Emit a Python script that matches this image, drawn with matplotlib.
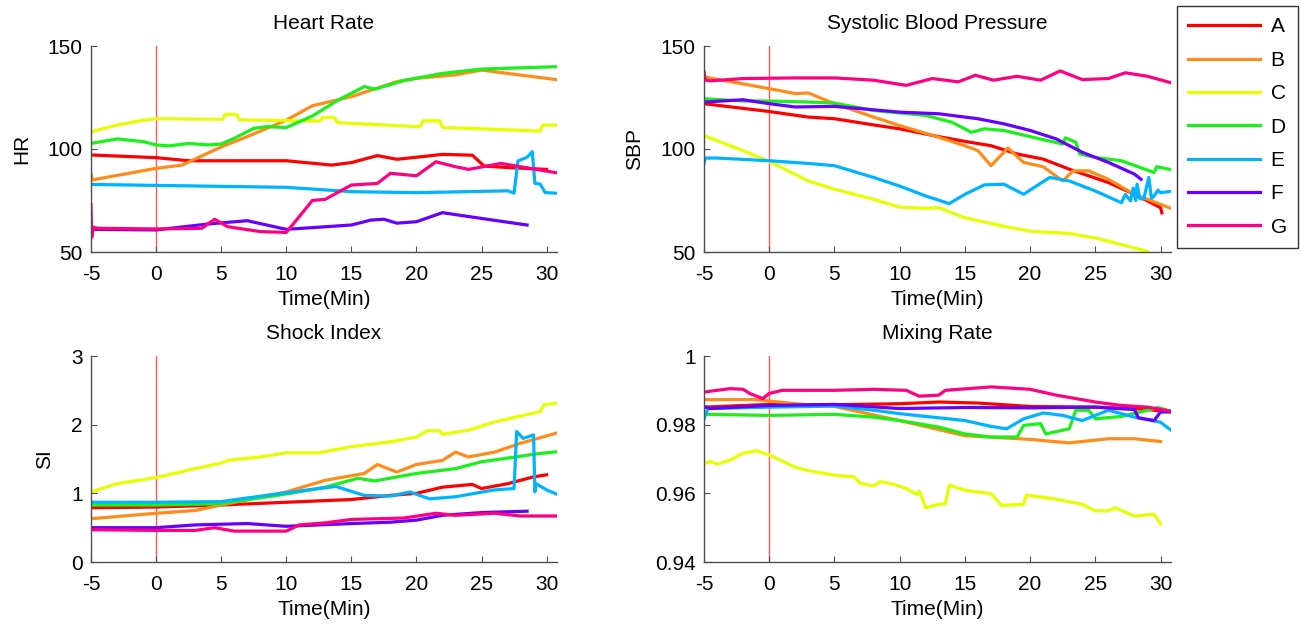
import numpy as np
from matplotlib import pyplot as plt

plt.rcParams['font.family'] = ['Liberation Sans', 'DejaVu Sans']
plt.rcParams['font.size'] = 15
plt.rcParams['axes.unicode_minus'] = False

names = ['A', 'B', 'C', 'D', 'E', 'F', 'G']
colors = ['#FF0000', '#FF8C1A', '#E6FF00', '#1AF01A', '#00B3FF', '#6600FF', '#FF0080']

# Heart Rate (time in min, bpm)
hr_a = [(-5, 97.1), (0, 95.8), (2.5, 94.3), (10, 94.3), (13.5, 92.2), (15, 93.4), (17, 96.8), (18.5, 95),
        (20, 96), (22, 97.4), (24.3, 97), (25.2, 91.7), (27, 91), (30, 90.1)]
hr_b = [(-5, 88), (-4.9, 85), (0, 90.6), (2, 92.2), (5, 101), (7, 106), (10, 114), (12, 121), (15, 125.4),
        (18.5, 132.7), (20, 134.3), (23, 136), (25, 138.3), (27, 136.7), (31, 133.5)]
hr_c = [(-5, 108.4), (-3, 111.6), (-1, 114), (0, 114.7), (5.1, 114.4), (5.3, 116.8), (6.2, 116.8), (6.4, 114.2),
        (10, 113.8), (12.6, 113.6), (12.8, 115.4), (13.7, 115.4), (13.9, 112.8), (20.3, 110.8), (20.5, 113.7),
        (21.8, 113.7), (22, 110.5), (29.5, 108.7), (29.7, 111.6), (31, 111.6)]
hr_d = [(-5, 102.7), (-3, 104.9), (-1, 103.6), (0, 102), (1, 101.5), (2.5, 102.7), (4, 102), (5, 102.4),
        (6, 105.2), (7.5, 110), (8.5, 110.9), (10, 110.4), (12, 116), (14, 123.8), (16, 130.3), (16.8, 129),
        (19, 133.2), (22, 136.7), (25, 138.8), (31, 140)]
hr_e = [(-5, 82.8), (10, 81.4), (15, 79.3), (20, 78.8), (27, 79.7), (27.5, 78.6), (27.8, 94.2), (28.5, 96),
        (28.9, 98.7), (29.1, 83.3), (29.5, 83), (29.9, 78.8), (31, 78.5)]
hr_f = [(-5, 61), (0, 60.7), (4, 63.6), (7, 65.2), (10, 61), (15, 63.1), (16.5, 65.5), (17.5, 65.9),
        (18.5, 64), (20, 64.7), (22, 69.1), (25, 66.3), (28.5, 63.1)]
hr_g = [(-5, 73), (-4.95, 57), (-4.8, 62), (-4.5, 61.5), (0, 61.2), (3.5, 61.5), (4.5, 65.9), (5.5, 62.3),
        (8, 59.9), (10, 59.5), (11, 67.2), (12, 75), (13, 75.6), (15, 82.5), (17, 83.3), (18, 88.2), (20, 87),
        (21.5, 93.8), (23, 91.4), (24, 90.1), (26.5, 93), (28, 91.4), (31, 88.2)]

# Systolic Blood Pressure (mmHg)
sbp_a = [(-5, 122), (0, 118.2), (3, 115.5), (5, 114.7), (8, 111.7), (10, 109.8), (13, 106), (15, 103.7),
         (17, 101.6), (19, 97.6), (21, 95.1), (23, 90.2), (26, 83.7), (28, 78), (30, 71.5), (30.1, 69)]
sbp_b = [(-5, 135), (0, 129.3), (2, 126.9), (3, 127.2), (5, 122), (8, 115.5), (10, 111.4), (13, 105.7),
         (15, 101.6), (16, 99.2), (17, 91.9), (18.3, 100.5), (19.5, 93.5), (21, 91.4), (22.5, 84.5),
         (23.3, 89.4), (24.5, 89.4), (26, 85.3), (28, 78), (31, 70.7)]
sbp_c = [(-5, 106.5), (-2, 99.2), (0, 94), (3, 84.5), (5, 80.5), (8, 75.6), (10, 71.8), (12, 71.2),
         (13, 71.5), (15, 66.6), (18, 62.5), (20, 60.1), (23, 59), (25, 56.8), (27, 53.6), (29, 50.3)]
sbp_d = [(-5, 124.4), (-2, 123.3), (0, 123.3), (3, 122.8), (5, 122.3), (8, 118.7), (12, 116.3), (14, 113),
         (15.5, 108.1), (16.5, 109.8), (18, 109), (20, 106), (22.5, 102.4), (22.7, 105.4), (23.5, 103.3),
         (23.8, 97.6), (25, 95.9), (27, 94.3), (29.5, 88.6), (29.7, 91.4), (31, 89.7)]
sbp_e = [(-5, 93), (-4.9, 95.6), (-4, 95.6), (0, 94.3), (3, 93), (5, 91.9), (8, 86.2), (10, 82), (12, 77.2),
         (13.8, 73.5), (15, 78), (16.5, 82.6), (18, 82.9), (19.5, 78), (21.5, 86.2), (23, 84.5), (25, 79.6),
         (27, 73.9), (27.3, 78), (27.7, 74.8), (27.9, 81), (28.1, 75), (28.2, 82.9), (28.4, 76), (28.7, 75.6),
         (29.1, 86.2), (29.3, 76), (29.5, 77.2), (29.8, 80), (30, 78.8), (31, 79.6)]
sbp_f = [(-5, 122.8), (-2, 123.9), (0, 122), (2, 120.4), (5, 120.7), (10, 117.9), (13, 117.1), (16, 114.7),
         (18, 112.2), (20, 109), (22, 104.9), (24, 98.4), (26, 93.5), (28, 87.8), (28.5, 85.3)]
sbp_g = [(-5, 137.5), (-4.9, 133.4), (-4.5, 133.1), (-2, 134.2), (2, 134.5), (5, 134.5), (8, 133.4),
         (10.5, 130.9), (12.5, 134.2), (14.5, 132.6), (15.8, 135.8), (17.2, 133.4), (19, 135.3), (20.8, 133.4),
         (22.3, 137.9), (24, 133.7), (26, 134.2), (27.3, 137), (29, 135.3), (31, 131.8)]

# Shock Index
si_a = [(-5, 0.79), (0, 0.80), (5, 0.83), (10, 0.87), (15, 0.91), (18, 0.97), (20, 1.0), (22, 1.09),
        (24.3, 1.13), (25, 1.07), (27, 1.14), (29, 1.24), (30, 1.27)]
si_b = [(-5, 0.63), (0, 0.71), (3, 0.75), (5, 0.83), (10, 1.02), (13, 1.19), (16, 1.29), (17, 1.42),
        (18.5, 1.31), (20, 1.42), (22, 1.48), (23, 1.60), (24, 1.53), (26, 1.60), (28, 1.73), (31, 1.89)]
si_c = [(-5, 1.02), (-3, 1.14), (0, 1.23), (3, 1.36), (5, 1.44), (5.5, 1.48), (8, 1.53), (10, 1.59),
        (12.5, 1.59), (15, 1.68), (18, 1.75), (20, 1.82), (20.8, 1.91), (21.8, 1.91), (22, 1.86), (24, 1.92),
        (26, 2.04), (29.5, 2.19), (29.8, 2.29), (31, 2.32)]
si_d = [(-5, 0.83), (0, 0.83), (5, 0.85), (10, 0.99), (13, 1.09), (15.5, 1.22), (16.8, 1.18), (20, 1.29),
        (23, 1.36), (25, 1.46), (28, 1.54), (29, 1.57), (31, 1.61)]
si_e = [(-5, 0.87), (0, 0.87), (5, 0.88), (10, 1.01), (13.8, 1.10), (16, 0.97), (18, 0.96), (19.5, 1.02),
        (21, 0.92), (23, 0.95), (26, 1.05), (27.5, 1.07), (27.7, 1.90), (28.2, 1.80), (29, 1.85), (29.1, 1.02),
        (29.2, 1.14), (30, 1.05), (31, 0.97)]
si_f = [(-5, 0.50), (0, 0.50), (3, 0.54), (7, 0.56), (10, 0.52), (15, 0.56), (18, 0.58), (20, 0.61),
        (22, 0.68), (25, 0.72), (28.5, 0.74)]
si_g = [(-5, 0.47), (0, 0.46), (3, 0.46), (4.5, 0.50), (6, 0.45), (10, 0.45), (11, 0.54), (13, 0.57),
        (15, 0.62), (17, 0.63), (19, 0.64), (21.5, 0.71), (23, 0.68), (26, 0.71), (28, 0.67), (31, 0.67)]

# Mixing Rate
mr_a = [(-5, 0.9851), (0, 0.9859), (5, 0.9858), (10, 0.9861), (13, 0.9866), (16, 0.9863), (20, 0.9853),
        (25, 0.9851), (28, 0.9847), (31, 0.9837)]
mr_b = [(-5, 0.9873), (-1, 0.9873), (2, 0.9861), (5, 0.9853), (10, 0.9812), (15, 0.9768), (20, 0.9757),
        (23, 0.9747), (26, 0.9759), (28, 0.9759), (30, 0.9751)]
mr_c = [(-5, 0.9687), (-4.5, 0.9693), (-4, 0.9685), (-3, 0.9697), (-2, 0.9717), (-1, 0.9724), (0, 0.9712),
        (2, 0.9676), (3, 0.9666), (5, 0.9653), (6.5, 0.9648), (7, 0.9629), (8, 0.9622), (8.5, 0.9634),
        (9.5, 0.9627), (10.5, 0.9614), (11.3, 0.9597), (11.5, 0.9607), (12, 0.9558), (13, 0.9568),
        (13.5, 0.957), (13.8, 0.9624), (15, 0.9609), (17, 0.9599), (17.8, 0.9565), (19.5, 0.9568),
        (19.7, 0.9595), (22, 0.9583), (24, 0.9568), (25, 0.9549), (26, 0.9549), (26.5, 0.9558), (28, 0.9534),
        (29.5, 0.9539), (30, 0.9511)]
mr_d = [(-5, 0.9837), (-4.8, 0.983), (0, 0.9827), (5, 0.983), (8, 0.9822), (10, 0.9812), (13, 0.9793),
        (15, 0.9773), (17, 0.9764), (19, 0.9764), (19.5, 0.9798), (20.8, 0.9803), (21.2, 0.9773), (23, 0.9788),
        (23.5, 0.9842), (24.5, 0.9842), (25, 0.9817), (27, 0.9824), (29, 0.9842), (29.8, 0.985), (31, 0.9837)]
mr_e = [(-5, 0.9817), (-4.7, 0.9847), (0, 0.9851), (5, 0.9854), (8, 0.9842), (10, 0.9832), (15, 0.9812),
        (17, 0.9795), (18.2, 0.9788), (19.5, 0.9817), (21, 0.9834), (22.5, 0.9827), (24, 0.9812), (26, 0.9842),
        (28, 0.9822), (30, 0.9807), (31, 0.9778)]
mr_f = [(-5, 0.9853), (-4.5, 0.9847), (0, 0.9856), (5, 0.9859), (10, 0.9847), (15, 0.985), (20, 0.9849),
        (25, 0.9851), (28, 0.9844), (28.3, 0.982), (29.5, 0.9812), (30, 0.9837), (31, 0.9837)]
mr_g = [(-5, 0.9895), (-3, 0.9905), (-2, 0.9903), (-1.5, 0.9891), (-0.5, 0.9876), (0, 0.9891), (1, 0.99),
        (5, 0.99), (8, 0.9903), (10.5, 0.99), (11.5, 0.9883), (13, 0.9886), (13.5, 0.99), (17, 0.991),
        (20, 0.9903), (22, 0.9886), (25, 0.9866), (27, 0.9856), (29, 0.9851), (31, 0.9838)]

W, H = 1302, 626
fig = plt.figure(figsize=(W / 100, H / 100), dpi=100)

def px_axes(x0, y0, x1, y1):
    return fig.add_axes([x0 / W, 1 - y1 / H, (x1 - x0) / W, (y1 - y0) / H])

panels = [
    (px_axes(91, 46, 557, 252), 'Heart Rate', 'HR', [hr_a, hr_b, hr_c, hr_d, hr_e, hr_f, hr_g],
     (50, 150), [50, 100, 150], ['50', '100', '150']),
    (px_axes(704, 46, 1171, 252), 'Systolic Blood Pressure', 'SBP', [sbp_a, sbp_b, sbp_c, sbp_d, sbp_e, sbp_f, sbp_g],
     (50, 150), [50, 100, 150], ['50', '100', '150']),
    (px_axes(91, 356, 557, 562), 'Shock Index', 'SI', [si_a, si_b, si_c, si_d, si_e, si_f, si_g],
     (0, 3), [0, 1, 2, 3], ['0', '1', '2', '3']),
    (px_axes(704, 356, 1171, 562), 'Mixing Rate', '', [mr_a, mr_b, mr_c, mr_d, mr_e, mr_f, mr_g],
     (0.94, 1.0), [0.94, 0.96, 0.98, 1.0], ['0.94', '0.96', '0.98', '1']),
]

handles = []
for ax, title, ylab, series, ylim, yt, ytl in panels:
    ax.axvline(0, color='#FF5A5A', lw=1, zorder=1)
    hs = []
    for s, c in zip(series, colors):
        arr = np.array(s)
        h, = ax.plot(arr[:, 0], arr[:, 1], color=c, lw=2.3, zorder=2)
        hs.append(h)
    handles = hs
    ax.set_xlim(-5, 30.8)
    ax.set_ylim(*ylim)
    ax.set_xticks(range(-5, 31, 5))
    ax.set_yticks(yt)
    ax.set_yticklabels(ytl)
    ax.set_title(title, fontsize=15, pad=12)
    ax.set_xlabel('Time(Min)', fontsize=15, labelpad=5)
    if ylab:
        ax.set_ylabel(ylab, fontsize=15, labelpad=12)
    for side in ['top', 'right']:
        ax.spines[side].set_visible(False)
    for side in ['left', 'bottom']:
        ax.spines[side].set_color('#4d4d4d')
        ax.spines[side].set_linewidth(1)
    ax.tick_params(direction='in', length=4, color='#4d4d4d', labelsize=15)
    ax.tick_params(axis='x', pad=9)
    ax.tick_params(axis='y', pad=6)

leg = fig.legend(handles, names, loc='upper left', bbox_to_anchor=(1177 / W, 1 - 6 / H),
                 fontsize=15, handlelength=3.45, labelspacing=0.69, handletextpad=0.5,
                 borderpad=0.55, borderaxespad=0, fancybox=False, framealpha=1, edgecolor='#333333')
leg.get_frame().set_linewidth(1)

fig.savefig('out.png', dpi=100)
